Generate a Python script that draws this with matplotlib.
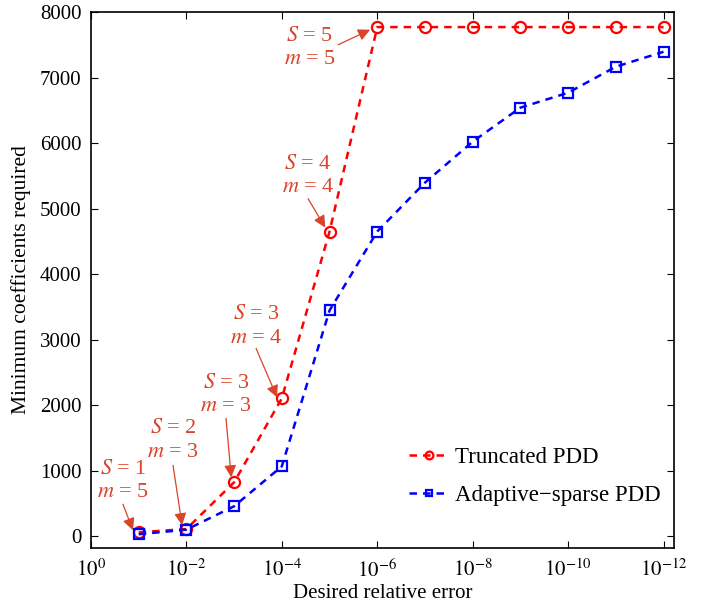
import numpy as np
import matplotlib
matplotlib.use('Agg')
import matplotlib.pyplot as plt

plt.rcParams['font.family'] = ['Liberation Serif', 'DejaVu Serif']
plt.rcParams['mathtext.fontset'] = 'stix'

# data
err_exp = [-1, -2, -3, -4, -5, -6, -7, -8, -9, -10, -11, -12]
truncated = [60, 110, 823, 2104, 4650, 7770, 7770, 7770, 7770, 7770, 7770, 7770]
adaptive = [30, 100, 457, 1067, 3445, 4650, 5396, 6021, 6540, 6768, 7165, 7393]

# annotations: label, text center (exp, y), arrow tail (exp, y), arrow head (exp, y)
ann_labels = ['$S$ = 1\n$m$ = 5', '$S$ = 2\n$m$ = 3', '$S$ = 3\n$m$ = 3',
              '$S$ = 3\n$m$ = 4', '$S$ = 4\n$m$ = 4', '$S$ = 5\n$m$ = 5']
ann_text = [(-0.67, 840), (-1.72, 1460), (-2.83, 2150), (-3.46, 3200), (-4.55, 5500), (-4.59, 7450)]
ann_tail = [(-0.67, 488), (-1.72, 1082), (-2.83, 1799), (-3.46, 2866), (-4.55, 5152), (-5.18, 7500)]
ann_head = [(-0.88, 91), (-1.91, 168), (-2.94, 899), (-3.90, 2119), (-4.91, 4710), (-5.85, 7730)]

ann_color = '#D9442A'

x = 10.0 ** np.array(err_exp)

fig = plt.figure(figsize=(7.08, 6.06), dpi=100)
ax = fig.add_axes([0.1285, 0.0957, 0.8235, 0.8845])

ax.plot(x, truncated, color='red', ls='--', dashes=(3, 2.4), lw=1.8,
        marker='o', ms=8, mfc='none', mec='red', mew=1.6, label='Truncated PDD')
ax.plot(x, adaptive, color='blue', ls='--', dashes=(3, 2.4), lw=1.8,
        marker='s', ms=7, mfc='none', mec='blue', mew=1.6, label='Adaptive\u2212sparse PDD')

for lab, t, tail, head in zip(ann_labels, ann_text, ann_tail, ann_head):
    ax.text(10.0 ** t[0], t[1], lab, color=ann_color, fontsize=16,
            ha='center', va='center', linespacing=1.3)
    ax.annotate('', xy=(10.0 ** head[0], head[1]), xytext=(10.0 ** tail[0], tail[1]),
                arrowprops=dict(arrowstyle='-|>', color=ann_color, lw=0.9,
                                mutation_scale=18, shrinkA=0, shrinkB=0))

ax.set_xscale('log')
ax.set_xlim(1, 10 ** -12.22)
ax.set_ylim(-180, 8000)
ax.set_xticks([10.0 ** -k for k in range(0, 13, 2)])
ax.set_xticklabels(['$10^{%d}$' % (-k) if k else '$10^{0}$' for k in range(0, 13, 2)])
ax.xaxis.set_minor_locator(matplotlib.ticker.NullLocator())
ax.set_yticks(np.arange(0, 8001, 1000))
ax.tick_params(axis='y', direction='in', right=True, labelsize=15, length=5, width=0.8, pad=7)
ax.tick_params(axis='x', direction='in', top=True, labelsize=15, length=5, width=0.8, pad=8)
for s in ax.spines.values():
    s.set_linewidth(1.2)

ax.set_xlabel('Desired relative error', fontsize=15)
ax.xaxis.set_label_coords(0.5, -0.068)
ax.set_ylabel('Minimum coefficients required', fontsize=15.5)
ax.yaxis.set_label_coords(-0.103, 0.5)

ax.legend(loc='center left', frameon=False, fontsize=16.5, handlelength=1.7, markerscale=0.7,
          bbox_to_anchor=(0.53, 0.134), labelspacing=0.75, handletextpad=0.3, borderaxespad=0)

fig.savefig('out.png', dpi=100)
